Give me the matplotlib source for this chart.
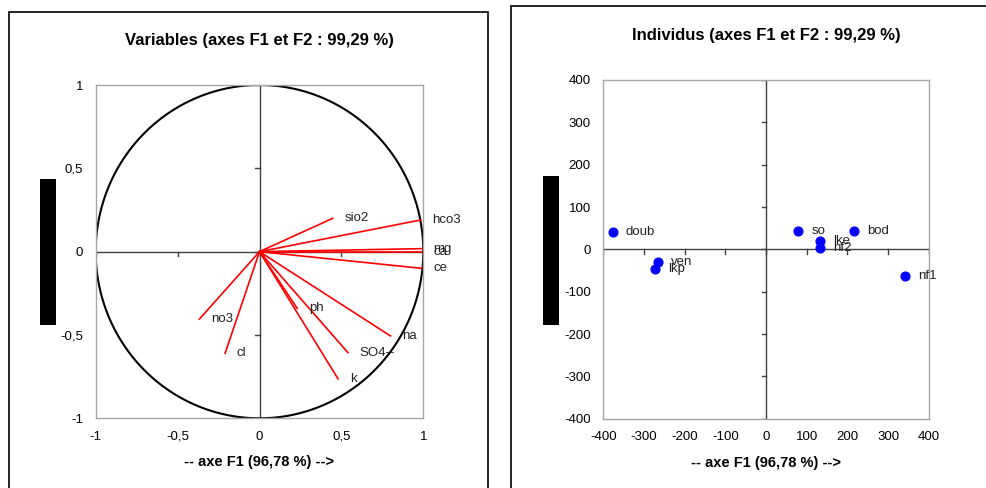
import matplotlib
matplotlib.use("Agg")
import matplotlib.pyplot as plt
import numpy as np
from matplotlib.patches import Rectangle

plt.rcParams['font.family'] = ['Liberation Sans', 'DejaVu Sans']

# ---- data: variables (correlation circle) ----
var_names = ["sio2", "hco3", "mg", "ca", "ce", "no3", "cl", "ph", "na", "SO4--", "k"]
var_f1 = [0.447, 0.984, 0.99, 0.99, 0.99, -0.367, -0.21, 0.23, 0.80, 0.54, 0.48]
var_f2 = [0.20, 0.19, 0.018, 0.0, -0.10, -0.405, -0.61, -0.34, -0.506, -0.606, -0.764]

# ---- data: individuals ----
ind_names = ["doub", "ven", "lkp", "so", "bod", "lke", "nf2", "nf1"]
ind_f1 = [-377, -266, -274, 79, 217, 132, 132, 342]
ind_f2 = [40, -31, -46, 43, 43, 20, 3, -63]

left_ticks = [-1, -0.5, 0, 0.5, 1]
left_ticklabels = ["-1", "-0,5", "0", "0,5", "1"]
right_ticks = [-400, -300, -200, -100, 0, 100, 200, 300, 400]
right_ticklabels = [str(t) for t in right_ticks]

W, H = 986, 488
fig = plt.figure(figsize=(W / 100, H / 100), dpi=100)

def fx(px):
    return px / W

def fy(py):
    return 1 - py / H

# panel borders
fig.patches.append(Rectangle((fx(9), fy(500)), fx(487.7 - 9), (500 - 11.7) / H,
                             transform=fig.transFigure, fill=False, ec='black', lw=1.2))
fig.patches.append(Rectangle((fx(511), fy(500)), fx(1000 - 511), (500 - 5.7) / H,
                             transform=fig.transFigure, fill=False, ec='black', lw=1.2))
# black bars (redacted axis titles)
fig.patches.append(Rectangle((fx(40), fy(325)), fx(16), (325 - 179) / H,
                             transform=fig.transFigure, fc='black', ec='none'))
fig.patches.append(Rectangle((fx(543), fy(325)), fx(16), (325 - 176) / H,
                             transform=fig.transFigure, fc='black', ec='none'))

def style_axes(ax, ticks, labels, lim, minor_len):
    ax.set_xlim(-lim, lim)
    ax.set_ylim(-lim, lim)
    for s in ax.spines.values():
        s.set_color('#a6a6a6')
        s.set_linewidth(1.0)
    ax.set_xticks(ticks)
    ax.set_xticklabels(labels)
    ax.set_yticks(ticks)
    ax.set_yticklabels(labels)
    ax.tick_params(length=0, labelsize=9.5, colors='black')
    ax.tick_params(axis='x', pad=9)
    ax.tick_params(axis='y', pad=9)
    # zero axes
    ax.axhline(0, color='#404040', lw=1.0, zorder=1)
    ax.axvline(0, color='#404040', lw=1.0, zorder=1)
    # tick marks on zero axes
    for t in ticks:
        ax.plot([t, t], [0, -minor_len], color='#404040', lw=1.0, zorder=1)
        ax.plot([0, -minor_len], [t, t], color='#404040', lw=1.0, zorder=1)

# ---- left: variables ----
axL = fig.add_axes([fx(95.7), fy(418.3), fx(423.3 - 95.7), (418.3 - 85) / H])
style_axes(axL, left_ticks, left_ticklabels, 1, 0.025)
theta = np.linspace(0, 2 * np.pi, 400)
axL.plot(np.cos(theta), np.sin(theta), color='black', lw=1.5, zorder=2)
for name, x, y in zip(var_names, var_f1, var_f2):
    axL.plot([0, x], [0, y], color='red', lw=1.2, zorder=3)
    axL.annotate(name, (x, y), xytext=(8.5, 0), textcoords='offset points',
                 va='center', ha='left', fontsize=9.5, color='#222222', zorder=4,
                 annotation_clip=False)
axL.set_title("Variables (axes F1 et F2 : 99,29 %)", fontsize=12, fontweight='bold', pad=29)
axL.set_xlabel("-- axe F1 (96,78 %) -->", fontsize=10.5, fontweight='bold', labelpad=9)

# ---- right: individuals ----
axR = fig.add_axes([fx(603.3), fy(418.7), fx(928.7 - 603.3), (418.7 - 80) / H])
style_axes(axR, right_ticks, right_ticklabels, 400, 10)
axR.plot(ind_f1, ind_f2, 'o', color='#0000ff', markersize=6.3, zorder=3, clip_on=False)
for name, x, y in zip(ind_names, ind_f1, ind_f2):
    axR.annotate(name, (x, y), xytext=(9.5, 0), textcoords='offset points',
                 va='center', ha='left', fontsize=9.5, color='#222222', zorder=4,
                 annotation_clip=False)
axR.set_title("Individus (axes F1 et F2 : 99,29 %)", fontsize=12, fontweight='bold', pad=29)
axR.set_xlabel("-- axe F1 (96,78 %) -->", fontsize=10.5, fontweight='bold', labelpad=9)

fig.savefig("out.png", dpi=100)
